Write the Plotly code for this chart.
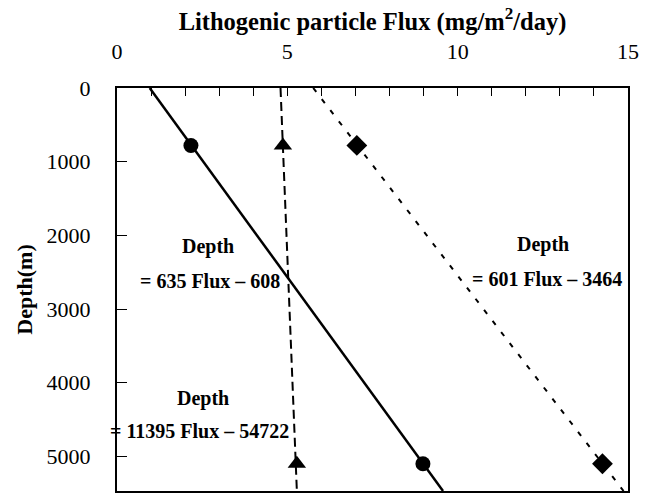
import plotly.graph_objects as go

# Data
marker_depth = [780, 5100]
flux_circle = [2.17, 8.98]
flux_triangle = [4.87, 5.28]
flux_diamond = [7.04, 14.25]

fit_depth = [0, 5470]
fit_circle = [0.96, 9.57]
fit_triangle = [4.80, 5.28]
fit_diamond = [5.76, 14.87]

eq_labels = ["Depth", "= 635 Flux \u2013 608",
             "Depth", "= 601 Flux \u2013 3464",
             "Depth", "= 11395 Flux \u2013 54722"]
eq_pos_x = [2.68, 2.73, 12.5, 12.62, 2.53, 2.42]
eq_pos_y = [2150, 2620, 2120, 2590, 4210, 4660]

x_ticks = [0, 5, 10, 15]
y_ticks = [0, 1000, 2000, 3000, 4000, 5000]

FONT = "Liberation Serif"

fig = go.Figure()

fig.add_trace(go.Scatter(x=fit_circle, y=fit_depth, mode="lines",
                         line=dict(color="black", width=2.5), showlegend=False))
fig.add_trace(go.Scatter(x=fit_triangle, y=fit_depth, mode="lines",
                         line=dict(color="black", width=2, dash="9px,5px"), showlegend=False))
fig.add_trace(go.Scatter(x=fit_diamond, y=fit_depth, mode="lines",
                         line=dict(color="black", width=2, dash="5px,9px"), showlegend=False))

fig.add_trace(go.Scatter(x=flux_circle, y=marker_depth, mode="markers",
                         marker=dict(symbol="circle", size=15, color="black"), showlegend=False))
fig.add_trace(go.Scatter(x=flux_triangle, y=marker_depth, mode="markers",
                         marker=dict(symbol="triangle-up", size=16, color="black"), showlegend=False))
fig.add_trace(go.Scatter(x=flux_diamond, y=marker_depth, mode="markers",
                         marker=dict(symbol="diamond", size=16, color="black"), showlegend=False))

for t, x, y in zip(eq_labels, eq_pos_x, eq_pos_y):
    fig.add_annotation(x=x, y=y, text=t, showarrow=False, xref="x", yref="y",
                       font=dict(family=FONT, size=20, color="black", weight="bold"),
                       align="center")

fig.update_layout(
    width=648, height=496,
    margin=dict(l=117, r=20, t=88, b=3),
    paper_bgcolor="white", plot_bgcolor="white",
    font=dict(family=FONT, color="black"),
)

fig.update_xaxes(
    side="top", range=[0, 15], tickvals=x_ticks,
    ticks="inside", ticklen=8, tickwidth=1, tickcolor="black",
    minor=dict(dtick=1, ticks="inside", ticklen=8, tickwidth=1, tickcolor="black"),
    showline=True, linecolor="black", linewidth=2, mirror=True,
    showgrid=False, zeroline=False,
    tickfont=dict(family=FONT, size=22, color="black"),
    ticklabelstandoff=18,
    title=dict(text="Lithogenic particle Flux (mg/m<sup>2</sup>/day)",
               font=dict(family=FONT, size=24.5, color="black", weight="bold"),
               standoff=2),
)
fig.update_yaxes(
    range=[5470, 0], tickvals=y_ticks,
    ticks="inside", ticklen=10, tickwidth=1, tickcolor="black",
    showline=True, linecolor="black", linewidth=2, mirror=True,
    showgrid=False, zeroline=False,
    tickfont=dict(family=FONT, size=22, color="black"),
    ticklabelstandoff=20,
    title=dict(text="Depth(m)",
               font=dict(family=FONT, size=22, color="black", weight="bold"),
               standoff=8),
)

fig.write_html("out.html")
